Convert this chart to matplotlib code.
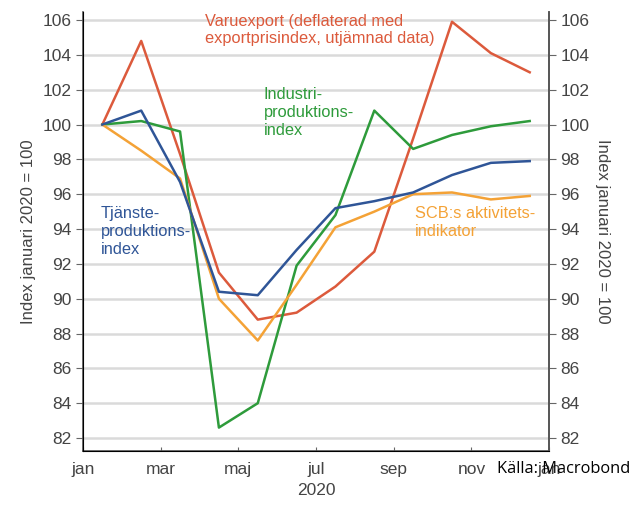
import matplotlib
matplotlib.use("Agg")
from matplotlib import pyplot as plt
import numpy as np

# month positions (mid-month), jan 2020 = 0.5
months = [0.5, 1.5, 2.5, 3.5, 4.5, 5.5, 6.5, 7.5, 8.5, 9.5, 10.5, 11.5]

varuexport = [100.0, 104.8, 98.3, 91.5, 88.8, 89.2, 90.7, 92.7, 99.2, 105.9, 104.1, 103.0]
tjanste = [100.0, 100.8, 96.7, 90.4, 90.2, 92.8, 95.2, 95.6, 96.1, 97.1, 97.8, 97.9]
industri = [100.0, 100.2, 99.6, 82.6, 84.0, 91.9, 94.8, 100.8, 98.6, 99.4, 99.9, 100.2]
scb = [100.0, 98.5, 96.9, 90.0, 87.6, 90.8, 94.1, 95.0, 96.0, 96.1, 95.7, 95.9]

xtick_pos = [0, 2, 4, 6, 8, 10, 12]
xtick_labels = ["jan", "mar", "maj", "jul", "sep", "nov", "jan"]
yticks = list(range(82, 107, 2))

RED = "#dc5a3c"
BLUE = "#2f5597"
GREEN = "#2e9b3b"
ORANGE = "#f4a236"
TXT = "#444444"

plt.rcParams['font.family'] = ['Liberation Sans', 'DejaVu Sans']

fig = plt.figure(figsize=(6.43, 5.08), dpi=100)
ax = fig.add_axes([0.129, 0.112, 0.725, 0.864])

for y in yticks:
    ax.axhline(y, color="#dadada", lw=1.8, zorder=0)

ax.plot(months, varuexport, color=RED, lw=1.8)
ax.plot(months, industri, color=GREEN, lw=1.8)
ax.plot(months, scb, color=ORANGE, lw=1.8)
ax.plot(months, tjanste, color=BLUE, lw=1.8)

ax.set_xlim(0, 12)
ax.set_ylim(81.25, 106.45)
ax.set_yticks(yticks)
ax.set_yticklabels([str(v) for v in yticks], fontsize=12.5, color=TXT)
ax.set_xticks(xtick_pos)
ax.set_xticklabels(xtick_labels, fontsize=12.5, color=TXT)
ax.tick_params(axis='x', direction='in', length=3, color="#666666", pad=8)
ax.tick_params(axis='y', direction='out', length=5, color="#666666", pad=3)
ax.set_xlabel("2020", fontsize=12.5, color=TXT, labelpad=4)
ax.set_ylabel("Index januari 2020 = 100", fontsize=12, color=TXT, labelpad=5)

ax.spines["top"].set_visible(False)
for side in ["left", "bottom", "right"]:
    ax.spines[side].set_color("#555555")
    ax.spines[side].set_linewidth(1.2)

ax2 = ax.twinx()
ax2.set_ylim(ax.get_ylim())
ax2.set_yticks(yticks)
ax2.set_yticklabels([str(v) for v in yticks], fontsize=12.5, color=TXT)
ax2.tick_params(axis='y', direction='out', length=5, color="#666666", pad=3)
ax2.set_ylabel("Index januari 2020 = 100", fontsize=12, color=TXT, rotation=270, labelpad=15)
ax2.spines["top"].set_visible(False)
ax2.spines["right"].set_color("#555555")
ax2.spines["right"].set_linewidth(1.2)

ax.text(3.13, 106.35, "Varuexport (deflaterad med\nexportprisindex, utjämnad data)",
        color=RED, fontsize=11.8, va="top", ha="left", linespacing=1.2)
ax.text(4.65, 102.15, "Industri-\nproduktions-\nindex",
        color=GREEN, fontsize=11.8, va="top", ha="left", linespacing=1.25)
ax.text(0.45, 95.3, "Tjänste-\nproduktions-\nindex",
        color=BLUE, fontsize=11.8, va="top", ha="left", linespacing=1.25)
ax.text(8.55, 95.3, "SCB:s aktivitets-\nindikator",
        color=ORANGE, fontsize=11.8, va="top", ha="left", linespacing=1.2)

fig.text(0.773, 0.077, "Källa: Macrobond", fontsize=11.8, color="black",
         family=['Open Sans', 'DejaVu Sans'], ha="left", va="center")

fig.savefig("out.png", dpi=100)
